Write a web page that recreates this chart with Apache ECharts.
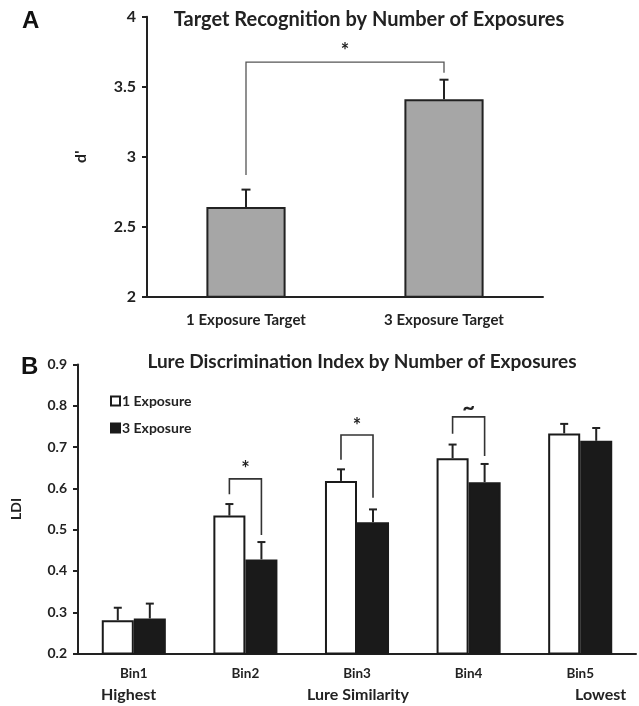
<!DOCTYPE html>
<html>
<head>
<meta charset="utf-8">
<script src="https://cdn.jsdelivr.net/npm/echarts@6/dist/echarts.min.js"></script>
<style>html,body{margin:0;padding:0;background:#fff;}#c{width:639px;height:706px;}</style>
</head>
<body>
<div id="c"></div>
<script>
// Panel A data
var catsA = ['1 Exposure Target', '3 Exposure Target'];
var meanA = [2.64, 3.41];
var errTopA = [2.765, 3.55];
var ticksA = [2, 2.5, 3, 3.5, 4];
// bracket: [leftCat, rightCat, leftBottom, top, rightBottom, label]
var bracketA = [[0, 1, 2.87, 3.675, 3.60, '*']];

// Panel B data
var catsB = ['Bin1', 'Bin2', 'Bin3', 'Bin4', 'Bin5'];
var mean1 = [0.281, 0.534, 0.618, 0.673, 0.733];
var errTop1 = [0.311, 0.562, 0.646, 0.706, 0.756];
var mean3 = [0.285, 0.428, 0.518, 0.615, 0.715];
var errTop3 = [0.321, 0.470, 0.549, 0.659, 0.746];
var ticksB = [0.2, 0.3, 0.4, 0.5, 0.6, 0.7, 0.8, 0.9];
// bracket: [cat, leftBottom, top, rightBottom, label]
var bracketsB = [[1, 0.586, 0.623, 0.487, '*'], [2, 0.669, 0.729, 0.577, '*'], [3, 0.732, 0.773, 0.678, '~']];
var simLabels = ['Highest', 'Lure Similarity', 'Lowest'];

var FONT = 'Lato, "Open Sans", sans-serif';
var BW_B = 0.287;

var chart = echarts.init(document.getElementById('c'));

function errA(params, api) {
  var p0 = api.coord([api.value(0), api.value(1)]);
  var p1 = api.coord([api.value(0), api.value(2)]);
  var x = p0[0];
  return {type: 'group', children: [
    {type: 'line', shape: {x1: x, y1: p0[1], x2: x, y2: p1[1]}, style: {stroke: '#222', lineWidth: 2}},
    {type: 'line', shape: {x1: x - 4.5, y1: p1[1], x2: x + 4.5, y2: p1[1]}, style: {stroke: '#222', lineWidth: 2}}
  ]};
}
function errBFactory(side) {
  return function (params, api) {
    var p0 = api.coord([api.value(0), api.value(1)]);
    var p1 = api.coord([api.value(0), api.value(2)]);
    var band = api.size([1, 0])[0];
    var x = p0[0] + side * band * BW_B / 2;
    return {type: 'group', children: [
      {type: 'line', shape: {x1: x, y1: p0[1], x2: x, y2: p1[1]}, style: {stroke: '#222', lineWidth: 2}},
      {type: 'line', shape: {x1: x - 4, y1: p1[1], x2: x + 4, y2: p1[1]}, style: {stroke: '#222', lineWidth: 2}}
    ]};
  };
}
function bracketARender(params, api) {
  var l = api.coord([api.value(0), api.value(2)]);
  var t = api.coord([api.value(0), api.value(3)]);
  var r = api.coord([api.value(1), api.value(4)]);
  var lbl = bracketA[params.dataIndex][5];
  return {type: 'group', children: [
    {type: 'polyline', shape: {points: [[l[0], l[1]], [l[0], t[1]], [r[0], t[1]], [r[0], r[1]]]}, style: {stroke: '#555', lineWidth: 1.3, fill: null}},
    {type: 'text', x: (l[0] + r[0]) / 2, y: t[1] - 11, style: {text: lbl, fontSize: 20, fontWeight: 'bold', fontFamily: FONT, fill: '#222', align: 'center', verticalAlign: 'middle'}}
  ]};
}
function bracketBRender(params, api) {
  var c = api.value(0);
  var pl = api.coord([c, api.value(1)]);
  var pt = api.coord([c, api.value(2)]);
  var pr = api.coord([c, api.value(3)]);
  var band = api.size([1, 0])[0];
  var xl = pl[0] - band * BW_B / 2, xr = pl[0] + band * BW_B / 2;
  var lbl = bracketsB[params.dataIndex][4];
  return {type: 'group', children: [
    {type: 'polyline', shape: {points: [[xl, pl[1]], [xl, pt[1]], [xr, pt[1]], [xr, pr[1]]]}, style: {stroke: '#333', lineWidth: 1.6, fill: null}},
    {type: 'text', x: (xl + xr) / 2, y: pt[1] - (lbl === '~' ? 9 : 9), style: {text: lbl, fontSize: lbl === '~' ? 22 : 20, fontWeight: 'bold', fontFamily: FONT, fill: '#222', align: 'center', verticalAlign: 'middle'}}
  ]};
}

var axisLbl = {color: '#222', fontFamily: FONT, fontWeight: 'bold'};

var option = {
  animation: false,
  backgroundColor: '#fff',
  title: [
    {text: 'A', left: 17, top: 4, textStyle: {fontSize: 24, fontWeight: 'bold', fontFamily: 'Liberation Sans, Arial, sans-serif', color: '#111'}},
    {text: 'Target Recognition by Number of Exposures', left: 364, top: 5, textAlign: 'center', textStyle: {fontSize: 20, fontWeight: 'bold', fontFamily: FONT, color: '#222'}},
    {text: 'B', left: 16, top: 350, textStyle: {fontSize: 24, fontWeight: 'bold', fontFamily: 'Liberation Sans, Arial, sans-serif', color: '#111'}},
    {text: 'Lure Discrimination Index by Number of Exposures', left: 357, top: 347, textAlign: 'center', textStyle: {fontSize: 19, fontWeight: 'bold', fontFamily: FONT, color: '#222'}}
  ],
  legend: {
    data: ['1 Exposure', '3 Exposure'],
    orient: 'vertical', left: 105, top: 389, itemWidth: 9, itemHeight: 9, itemGap: 13,
    icon: 'rect',
    textStyle: {fontSize: 14, fontWeight: 'bold', fontFamily: FONT, color: '#222', padding: [0, 0, 0, -3]}
  },
  grid: [
    {left: 147, right: 96, top: 16.7, bottom: 409.3},
    {left: 78, right: 3, top: 364.4, bottom: 52.4}
  ],
  xAxis: [
    {type: 'category', gridIndex: 0, data: catsA,
     axisLine: {lineStyle: {color: '#222', width: 2}},
     axisTick: {length: 5, lineStyle: {color: '#222', width: 2}},
     axisLabel: Object.assign({fontSize: 15, margin: 16}, axisLbl)},
    {type: 'category', gridIndex: 1, data: catsB,
     axisLine: {lineStyle: {color: '#222', width: 2}},
     axisTick: {length: 5, lineStyle: {color: '#222', width: 2}},
     axisLabel: Object.assign({fontSize: 13.5, margin: 13}, axisLbl)}
  ],
  yAxis: [
    {type: 'value', gridIndex: 0, min: ticksA[0], max: ticksA[ticksA.length - 1], interval: 0.5,
     name: "d'", nameLocation: 'middle', nameGap: 58, nameRotate: 90,
     nameTextStyle: {fontSize: 16, fontWeight: 'bold', fontFamily: FONT, color: '#222'},
     axisLine: {show: true, lineStyle: {color: '#222', width: 2}},
     axisTick: {show: true, length: 5, lineStyle: {color: '#222', width: 2}},
     splitLine: {show: false},
     axisLabel: Object.assign({fontSize: 16, margin: 11}, axisLbl)},
    {type: 'value', gridIndex: 1, min: ticksB[0], max: ticksB[ticksB.length - 1], interval: 0.1,
     name: 'LDI', nameLocation: 'middle', nameGap: 55, nameRotate: 90,
     nameTextStyle: {fontSize: 14, fontWeight: 'bold', fontFamily: FONT, color: '#222'},
     axisLine: {show: true, lineStyle: {color: '#222', width: 2}},
     axisTick: {show: true, length: 5, lineStyle: {color: '#222', width: 2}},
     splitLine: {show: false},
     axisLabel: Object.assign({fontSize: 14, margin: 11, formatter: function (v) { return v.toFixed(1); }}, axisLbl)}
  ],
  graphic: [
    {type: 'text', left: 129 - 28, top: 687, style: {text: simLabels[0], fontSize: 16, fontWeight: 'bold', fontFamily: FONT, fill: '#222'}},
    {type: 'text', left: 358 - 51, top: 687, style: {text: simLabels[1], fontSize: 16, fontWeight: 'bold', fontFamily: FONT, fill: '#222'}},
    {type: 'text', left: 600 - 25, top: 687, style: {text: simLabels[2], fontSize: 16, fontWeight: 'bold', fontFamily: FONT, fill: '#222'}}
  ],
  series: [
    {type: 'bar', xAxisIndex: 0, yAxisIndex: 0, data: meanA, barWidth: '40%',
     itemStyle: {color: '#a6a6a6', borderColor: '#222', borderWidth: 2}},
    {type: 'custom', xAxisIndex: 0, yAxisIndex: 0, renderItem: errA,
     data: meanA.map(function (m, i) { return [i, m, errTopA[i]]; }), z: 5},
    {type: 'custom', xAxisIndex: 0, yAxisIndex: 0, renderItem: bracketARender,
     data: bracketA.map(function (b) { return [b[0], b[1], b[2], b[3], b[4]]; }), z: 5},
    {name: '1 Exposure', type: 'bar', xAxisIndex: 1, yAxisIndex: 1, data: mean1, barWidth: (BW_B * 100) + '%', barGap: '0%',
     itemStyle: {color: '#ffffff', borderColor: '#1a1a1a', borderWidth: 2}},
    {name: '3 Exposure', type: 'bar', xAxisIndex: 1, yAxisIndex: 1, data: mean3, barWidth: (BW_B * 100) + '%', barGap: '0%',
     itemStyle: {color: '#1a1a1a', borderColor: '#1a1a1a', borderWidth: 2}},
    {type: 'custom', xAxisIndex: 1, yAxisIndex: 1, renderItem: errBFactory(-1),
     data: mean1.map(function (m, i) { return [i, m, errTop1[i]]; }), z: 5},
    {type: 'custom', xAxisIndex: 1, yAxisIndex: 1, renderItem: errBFactory(1),
     data: mean3.map(function (m, i) { return [i, m, errTop3[i]]; }), z: 5},
    {type: 'custom', xAxisIndex: 1, yAxisIndex: 1, renderItem: bracketBRender,
     data: bracketsB.map(function (b) { return [b[0], b[1], b[2], b[3]]; }), z: 5}
  ]
};
chart.setOption(option);
</script>
</body>
</html>
